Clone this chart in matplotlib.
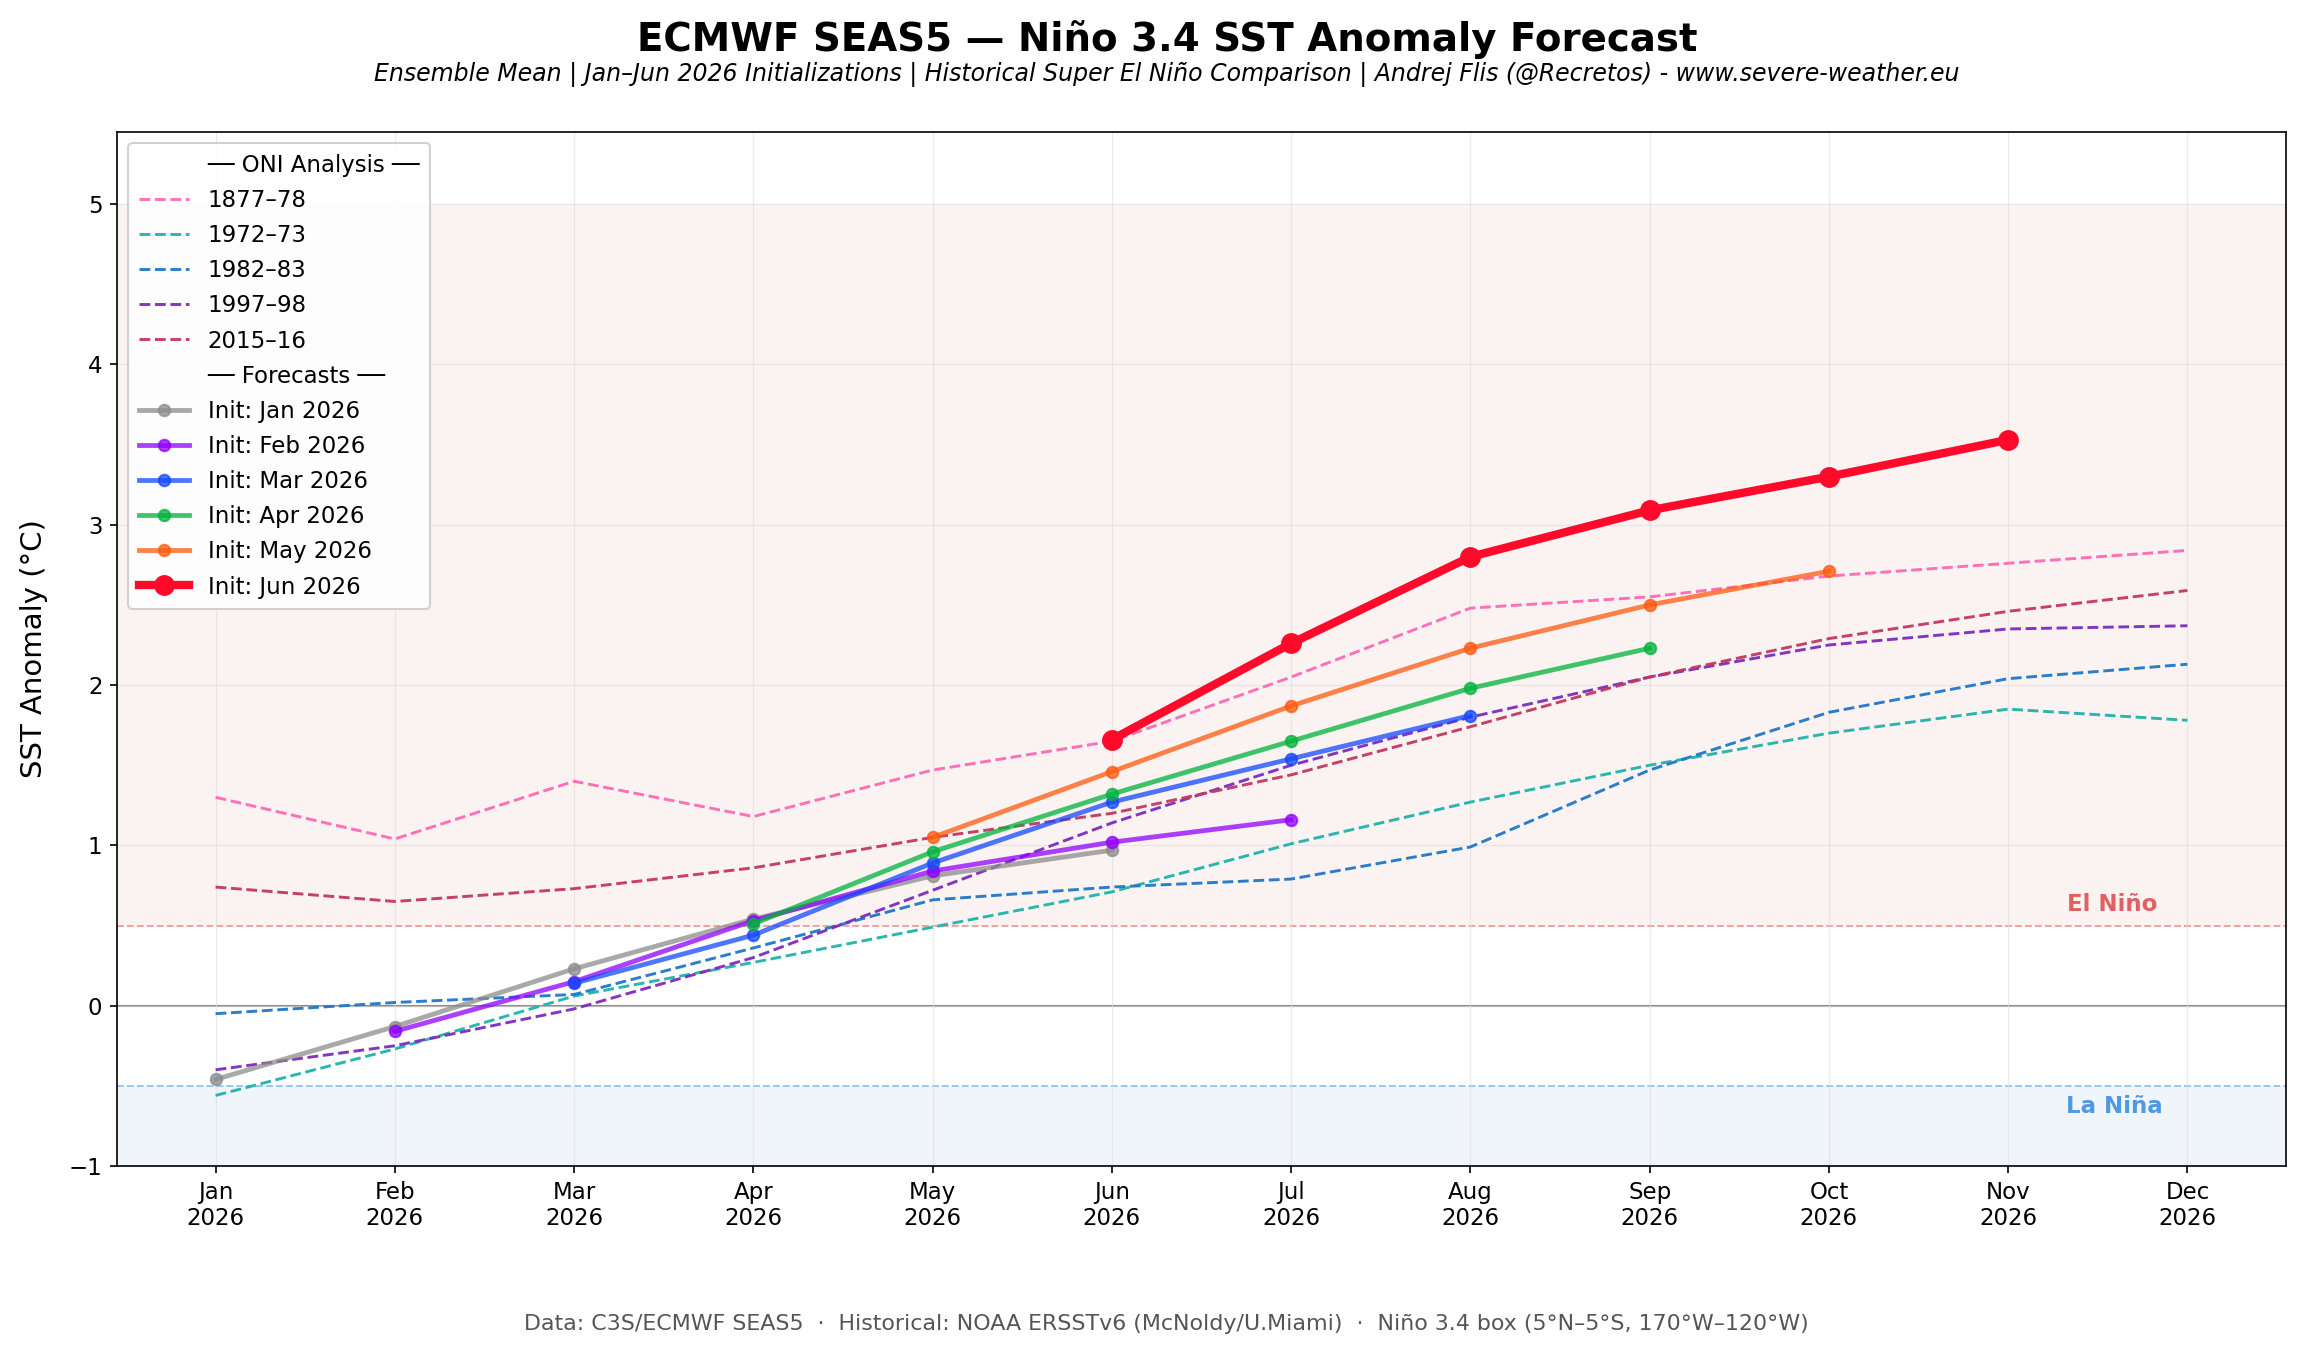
import numpy as np
import matplotlib.pyplot as plt
from matplotlib.lines import Line2D

months = ["Jan", "Feb", "Mar", "Apr", "May", "Jun", "Jul", "Aug", "Sep", "Oct", "Nov", "Dec"]
tick_labels = [m + "\n2026" for m in months]

# historical ONI (Jan..Dec)
hist_names = ["1877–78", "1972–73", "1982–83", "1997–98", "2015–16"]
hist_colors = ["#ff69b4", "#20b2aa", "#1f77c9", "#7b2cbf", "#c2375f"]
oni_1877 = [1.30, 1.04, 1.40, 1.18, 1.47, 1.65, 2.05, 2.48, 2.55, 2.68, 2.76, 2.84]
oni_1972 = [-0.56, -0.27, 0.06, 0.27, 0.49, 0.71, 1.01, 1.27, 1.50, 1.70, 1.85, 1.78]
oni_1982 = [-0.05, 0.02, 0.07, 0.36, 0.66, 0.74, 0.79, 0.99, 1.47, 1.83, 2.04, 2.13]
oni_1997 = [-0.40, -0.25, -0.02, 0.30, 0.72, 1.14, 1.50, 1.80, 2.05, 2.25, 2.35, 2.37]
oni_2015 = [0.74, 0.65, 0.73, 0.86, 1.05, 1.20, 1.44, 1.74, 2.05, 2.29, 2.46, 2.59]
hist_values = [oni_1877, oni_1972, oni_1982, oni_1997, oni_2015]

# SEAS5 ensemble mean forecasts: start month index + values
fc_names = ["Init: Jan 2026", "Init: Feb 2026", "Init: Mar 2026",
            "Init: Apr 2026", "Init: May 2026", "Init: Jun 2026"]
fc_colors = ["#8c8c8c", "#9000ff", "#1448ff", "#00b33c", "#ff5a0f", "#ff0a2a"]
fc_start = [0, 1, 2, 3, 4, 5]
fc_jan = [-0.46, -0.13, 0.23, 0.54, 0.81, 0.97]
fc_feb = [-0.16, 0.15, 0.53, 0.84, 1.02, 1.16]
fc_mar = [0.14, 0.44, 0.89, 1.27, 1.54, 1.81]
fc_apr = [0.51, 0.96, 1.32, 1.65, 1.98, 2.23]
fc_may = [1.05, 1.46, 1.87, 2.23, 2.50, 2.71]
fc_jun = [1.66, 2.26, 2.80, 3.09, 3.30, 3.53]
fc_values = [fc_jan, fc_feb, fc_mar, fc_apr, fc_may, fc_jun]

fig = plt.figure(figsize=(2306/150, 1355/150), dpi=150)
ax = fig.add_axes([117/2306, 1 - 1166/1355, (2286-117)/2306, (1166-132)/1355])

x = np.arange(12)

# ENSO regions
ax.axhspan(0.5, 5.0, color="#f3d2cc", alpha=0.25, lw=0, zorder=0)
ax.axhspan(-1.5, -0.5, color="#cfe0f5", alpha=0.3, lw=0, zorder=0)
ax.axhline(0.5, color="#e88a8a", ls="--", lw=0.9, alpha=0.8, zorder=1)
ax.axhline(-0.5, color="#7fb8e8", ls="--", lw=0.9, alpha=0.8, zorder=1)
ax.axhline(0, color="#888888", lw=1.0, zorder=1)
ax.text(10.83, 0.63, "El Niño", color="#e05050", fontsize=11, fontweight="bold",
        ha="right", va="center", alpha=0.9)
ax.text(10.86, -0.63, "La Niña", color="#3d8ee0", fontsize=11, fontweight="bold",
        ha="right", va="center", alpha=0.9)

handles = [Line2D([], [], color="none", label="── ONI Analysis ──")]
for name, c, v in zip(hist_names, hist_colors, hist_values):
    h, = ax.plot(x, v, ls="--", color=c, lw=1.4, alpha=0.95, label=name, zorder=2)
    handles.append(h)

handles.append(Line2D([], [], color="none", label="── Forecasts ──"))
for i, (name, c, v) in enumerate(zip(fc_names, fc_colors, fc_values)):
    xs = np.arange(fc_start[i], fc_start[i] + len(v))
    if i == 5:
        h, = ax.plot(xs, v, "-o", color=c, lw=4, ms=9, label=name, zorder=10)
    else:
        h, = ax.plot(xs, v, "-o", color=c, lw=2.3, ms=5.5, alpha=0.75, label=name, zorder=3 + i)
    handles.append(h)

ax.set_xlim(-0.55, 11.55)
ax.set_ylim(-1, 5.45)
ax.set_xticks(x)
ax.set_xticklabels(tick_labels, fontsize=11)
ax.set_yticks([-1, 0, 1, 2, 3, 4, 5])
ax.set_yticklabels(["−1", "0", "1", "2", "3", "4", "5"], fontsize=11)
ax.set_ylabel("SST Anomaly (°C)", fontsize=14, labelpad=10)
ax.grid(True, color="#dddddd", lw=0.6, alpha=0.6)

ax.legend(handles=handles, loc="upper left", fontsize=11, framealpha=0.9,
          handlelength=2.2, labelspacing=0.53, borderpad=0.45)

fig.text(0.506, 0.971, "ECMWF SEAS5 — Niño 3.4 SST Anomaly Forecast", ha="center", va="center",
         fontsize=18.6, fontweight="bold")
fig.text(0.506, 0.945, "Ensemble Mean | Jan–Jun 2026 Initializations | Historical Super El Niño Comparison | Andrej Flis (@Recretos) - www.severe-weather.eu",
         ha="center", va="center", fontsize=11.35, style="italic")
fig.text(0.506, 0.023, "Data: C3S/ECMWF SEAS5  ·  Historical: NOAA ERSSTv6 (McNoldy/U.Miami)  ·  Niño 3.4 box (5°N–5°S, 170°W–120°W)",
         ha="center", va="center", fontsize=10.6, color="#555555")

fig.savefig("out.png", dpi=150)
